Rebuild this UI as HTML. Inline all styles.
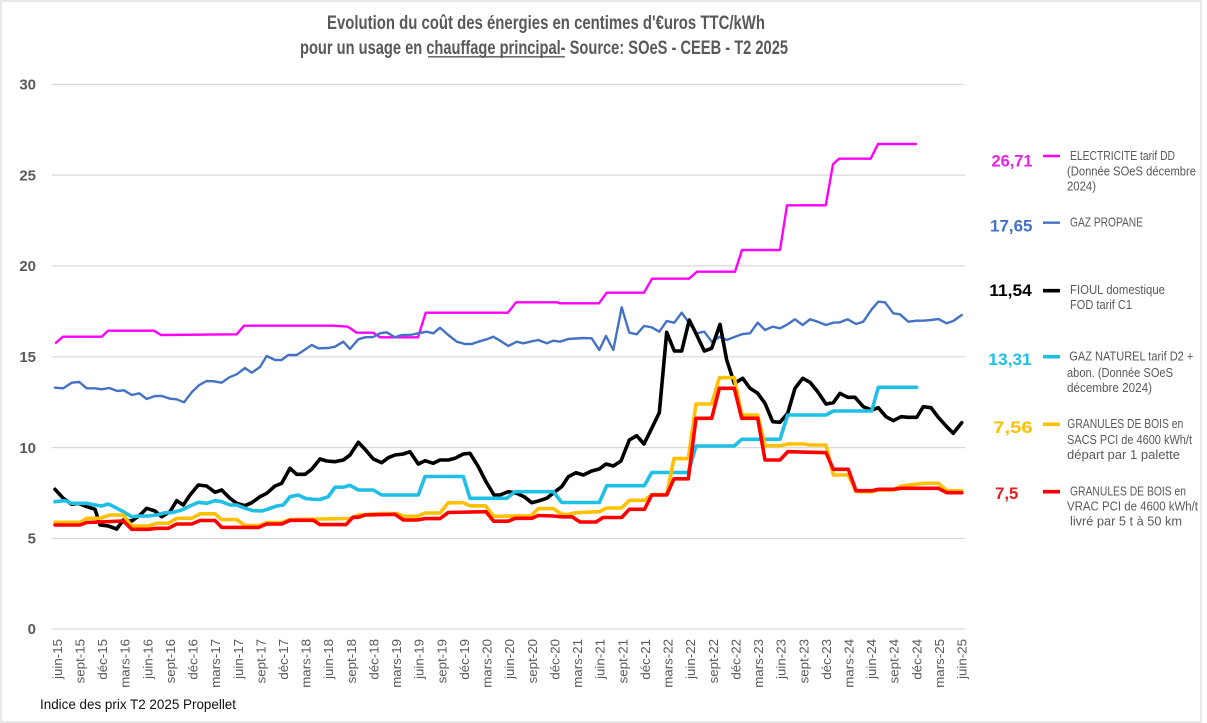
<!DOCTYPE html>
<html><head><meta charset="utf-8"><style>
html,body{margin:0;padding:0;background:#fff;}
svg{display:block;}
text{font-family:"Liberation Sans",sans-serif;}
.nar{font-family:"Liberation Sans Narrow","Liberation Sans",sans-serif;}
</style></head><body>
<svg width="1207" height="723" viewBox="0 0 1207 723" xmlns="http://www.w3.org/2000/svg">
<rect x="0" y="0" width="1207" height="723" fill="#fff"/>
<rect x="1" y="1" width="1200" height="721" fill="none" stroke="#D9D9D9" stroke-width="1.2"/>

<!-- Title -->
<text class="nar" x="546" y="29" text-anchor="middle" font-size="19.5" font-weight="bold" fill="#595959" textLength="438" lengthAdjust="spacingAndGlyphs">Evolution du coût des énergies en centimes d'€uros TTC/kWh</text>
<text class="nar" x="544" y="54" text-anchor="middle" font-size="19.5" font-weight="bold" fill="#595959" textLength="488" lengthAdjust="spacingAndGlyphs">pour un usage en chauffage principal- Source: SOeS - CEEB - T2 2025</text>
<line x1="428" y1="56.8" x2="565" y2="56.8" stroke="#595959" stroke-width="1.3"/>

<!-- gridlines -->
<g stroke="#D9D9D9" stroke-width="1.2">
<line x1="52" y1="84.3" x2="965" y2="84.3"/>
<line x1="52" y1="175.1" x2="965" y2="175.1"/>
<line x1="52" y1="265.9" x2="965" y2="265.9"/>
<line x1="52" y1="356.8" x2="965" y2="356.8"/>
<line x1="52" y1="447.6" x2="965" y2="447.6"/>
<line x1="52" y1="538.4" x2="965" y2="538.4"/>
<line x1="52" y1="629" x2="965" y2="629"/>
</g>

<!-- y labels -->
<g font-size="15" font-weight="bold" fill="#595959" text-anchor="end">
<text x="36" y="89.5">30</text>
<text x="36" y="180.3">25</text>
<text x="36" y="271.1">20</text>
<text x="36" y="362">15</text>
<text x="36" y="452.8">10</text>
<text x="36" y="543.6">5</text>
<text x="36" y="634.2">0</text>
</g>

<!-- x labels -->
<g font-size="13.3" fill="#595959" text-anchor="end">
<text transform="translate(61.8,639) rotate(-90)">juin-15</text>
<text transform="translate(84.4,639) rotate(-90)">sept-15</text>
<text transform="translate(107,639) rotate(-90)">déc-15</text>
<text transform="translate(129.7,639) rotate(-90)">mars-16</text>
<text transform="translate(152.3,639) rotate(-90)">juin-16</text>
<text transform="translate(174.9,639) rotate(-90)">sept-16</text>
<text transform="translate(197.5,639) rotate(-90)">déc-16</text>
<text transform="translate(220.1,639) rotate(-90)">mars-17</text>
<text transform="translate(242.8,639) rotate(-90)">juin-17</text>
<text transform="translate(265.4,639) rotate(-90)">sept-17</text>
<text transform="translate(288,639) rotate(-90)">déc-17</text>
<text transform="translate(310.6,639) rotate(-90)">mars-18</text>
<text transform="translate(333.2,639) rotate(-90)">juin-18</text>
<text transform="translate(355.9,639) rotate(-90)">sept-18</text>
<text transform="translate(378.5,639) rotate(-90)">déc-18</text>
<text transform="translate(401.1,639) rotate(-90)">mars-19</text>
<text transform="translate(423.7,639) rotate(-90)">juin-19</text>
<text transform="translate(446.3,639) rotate(-90)">sept-19</text>
<text transform="translate(469,639) rotate(-90)">déc-19</text>
<text transform="translate(491.6,639) rotate(-90)">mars-20</text>
<text transform="translate(514.2,639) rotate(-90)">juin-20</text>
<text transform="translate(536.8,639) rotate(-90)">sept-20</text>
<text transform="translate(559.4,639) rotate(-90)">déc-20</text>
<text transform="translate(582.1,639) rotate(-90)">mars-21</text>
<text transform="translate(604.7,639) rotate(-90)">juin-21</text>
<text transform="translate(627.3,639) rotate(-90)">sept-21</text>
<text transform="translate(649.9,639) rotate(-90)">déc-21</text>
<text transform="translate(672.5,639) rotate(-90)">mars-22</text>
<text transform="translate(695.2,639) rotate(-90)">juin-22</text>
<text transform="translate(717.8,639) rotate(-90)">sept-22</text>
<text transform="translate(740.4,639) rotate(-90)">déc-22</text>
<text transform="translate(763,639) rotate(-90)">mars-23</text>
<text transform="translate(785.6,639) rotate(-90)">juin-23</text>
<text transform="translate(808.3,639) rotate(-90)">sept-23</text>
<text transform="translate(830.9,639) rotate(-90)">déc-23</text>
<text transform="translate(853.5,639) rotate(-90)">mars-24</text>
<text transform="translate(876.1,639) rotate(-90)">juin-24</text>
<text transform="translate(898.7,639) rotate(-90)">sept-24</text>
<text transform="translate(921.4,639) rotate(-90)">déc-24</text>
<text transform="translate(944,639) rotate(-90)">mars-25</text>
<text transform="translate(966.6,639) rotate(-90)">juin-25</text>
</g>

<!-- series -->
<g fill="none" stroke-linejoin="round" stroke-linecap="round">
<polyline stroke="#FF00FF" stroke-width="2.4" points="56,342.7 63,336.7 101.7,336.7 108,330.7 154,330.7 161,335 236.7,334.3 244,325.7 300,325.7 333,325.7 348,326.7 356.7,332.7 373.3,332.7 380,337.3 418,337.3 425.7,312.7 508,312.7 516,302.3 557,302.3 560,303.3 599,303.3 606.7,292.7 644,292.7 652,278.7 689,278.7 697,271.7 735,271.7 742,250 780,250 787,205.3 825.7,205.3 833,164.3 839,158.7 870.7,158.7 878,144 916,144"/>
<polyline stroke="#4472C4" stroke-width="2.4" points="55,387.7 63.3,388.3 71.7,382.7 79.3,382 86.7,388.3 95,388.3 101.7,389.3 109.3,388 117.3,391 124,390.3 131.7,395 139.3,393.3 146.7,399 155,396 161.7,396 170,398.7 176.7,399.3 184,402.3 191.7,392.3 199.3,385 206.7,381 214,381.3 221.7,382.7 229.3,377.3 236.7,374.3 245,368 251.7,372.7 260,367 266.7,356 275,360 281.7,360 288.3,355 296.7,355 303.3,350.7 311.7,345 318.3,348.3 328.3,348 335,346.7 343.3,341.7 350,349 358.3,339.3 365,337.3 373.3,337 380,333.3 386.7,332.3 395,337.3 401.7,335 410,335 418.3,333.3 426.7,331.7 433.3,333.3 440,327.7 448.3,335 456.7,341.7 465,344 471.7,344 478.3,341.7 486.7,339.3 493.3,336.7 501.7,341.7 508.3,346 516.7,341.7 523.3,343.3 530,341.7 538.3,340 546.7,343.3 553.3,340.7 560,341.7 568.3,339 583.3,338 591.7,338.3 599.3,350 606,336 613.3,350 621.7,307.3 629.3,332.7 636.7,334.3 644,326 651.7,327.3 659.3,331.7 666.7,321 674.3,322.7 681.7,312.7 689.3,323.3 696.7,333.3 704.3,331.7 711.7,341.7 720,336.7 726.7,340 735,336.7 742.7,334 750,333.3 757.7,322.7 765,330 772.7,326.7 780,328.3 787.7,324.3 795,319.3 802.7,325 810,319.3 817.7,321.7 826,325 833.3,322.7 840,322.3 847.7,319.3 856,324 863.3,321.7 871.7,309.3 878.3,301.7 885,302.3 893.3,313.3 900,314.3 908.3,321.7 916.7,320.7 923.3,320.7 931,320 938.3,319 946.7,323.3 953.3,321 961.7,315"/>
<polyline stroke="#000000" stroke-width="3.6" points="55,489.3 63.3,498.3 71.7,504.3 78.3,503.3 85,506 95,509.3 100,525 108.3,526 116.7,529 123.3,520 131.7,521 140,515 146.7,508.3 155,511 161.7,516.7 170,511.7 176.7,500.7 183.3,505 190,495 198.3,485 206.7,486 215,492.3 221.7,490 230,498.3 236.7,503.3 245,505.7 251.7,502.7 260,496.7 266.7,493.3 275,486 281.7,483.3 290,468.3 296.7,474.3 305,474.3 311.7,469.3 320,459 326.7,461 335,461.7 343.3,460 350,455 358.3,442.3 365,449.3 373.3,459 381.7,462.7 388.3,457.7 395,455 403.3,454 410,451.7 418.3,464 425,460.7 433.3,463.3 440,460 448.3,460 455,458.3 463.3,454 470,453.3 478.3,466.7 486,481.7 494,495 500,495 508.3,491.7 516.7,493.3 525,497.3 531.7,502.7 538.3,501 546.7,498.3 555,491.7 561.7,486.7 568.3,476.7 576,472.7 583.3,475 591.7,471 599.3,469 606,464 613.3,466 621,461 629.3,440 636.7,435.7 644,444 651.7,428.3 659.3,412.7 666.7,332.3 674.3,351 681.7,351 689.3,320 696.7,335 704.3,351 711.7,348.3 720,324.3 726.7,360 734.3,383.3 742.7,378.3 750,388.3 757.7,393.3 765,403.3 772.7,421.7 780,422.3 787.7,413.3 795,388.3 802.7,378.3 810,382.3 817.7,391.7 826,404 833.3,402.7 840,393.3 847.7,397.3 855,397.3 863.3,406.7 871.7,410 878.3,407.7 886,416.7 893.3,420.7 901,416.7 908.3,417.3 916.7,417.3 923.3,406.7 931,407.7 938.3,417.3 946.7,426.7 953.3,433.3 961.7,422.7"/>
<polyline stroke="#1FBFE6" stroke-width="3.6" points="55,501.7 65,500.7 71.7,503.3 86.7,503.3 95,505 101.7,506 108.3,504 115,507.3 123.3,511.7 131.7,516.7 140,516 148.3,516 156.7,515 165,512.7 171.7,512.7 181.7,510 190,506 198.3,502.3 206.7,503.3 215,500.7 221.7,501.7 230,505 236.7,505 245,508.3 253.3,510.7 261.7,511 268.3,509 276.7,506 283.3,505 290,496.7 298.3,495 305,498.3 313.3,499.3 320,499.5 328.3,496.7 335,487.2 343.3,487.2 350,485.3 358.3,490 373.3,490 381.7,495 418.3,495 425,476.5 463.3,476.5 470,498.3 506.7,498.3 515,491.7 553.3,491.7 561.7,502.5 599.3,502.5 606.7,485.7 644.3,485.7 651.7,472.5 688.3,472.5 696,446 734.3,446 741.7,439.3 780,439.3 787.7,415 826,415 833.3,411 871.7,411 878.3,387.3 916.7,387.3"/>
<polyline stroke="#FFC000" stroke-width="3.6" points="55,522.3 80,522.3 86.7,518.3 100,518.3 110,515 123.3,515 131.7,526 148.3,526 156.7,523.3 168.3,523.3 176.7,518.3 191.7,518.3 200,513.8 215,513.8 221.7,519.6 236.7,519.6 245,525.5 259,525.5 266.7,522.5 281.7,522.5 290,519.6 320,519 350,518.5 358.3,515 380,513.5 397,513.5 403.3,516.3 417.5,516.3 425,513 440,513 448.3,502.7 463.3,502.7 470,505.8 485.5,505.8 493.5,516.3 531,515.8 538.3,508.6 553.3,508.6 561.7,514.3 568.3,514.3 576,512.7 599.3,511.7 606.7,508 621.7,508 629.3,500.3 644.5,500.3 651.7,494.6 666.7,494.6 674,458.6 688.3,458.6 696,404 711.7,404 719.3,377.7 734.3,377.7 741.7,415 757.7,415 765,445.7 780,445.7 787.7,444 803.3,444 810,445 826,445 833.3,475 848.3,475 856,491.7 871.7,491.7 878.3,490 893.3,490 901,486 923.3,483.3 938.3,483.3 946.7,490.7 961.7,490.7"/>
<polyline stroke="#FF0000" stroke-width="3.6" points="55,525 80,525 86.7,522.5 123.3,521 131.7,529.3 148.3,529.3 156.7,528.3 168.3,528.3 176.7,524 191.7,524 200,520.5 215,520.5 221.7,527.3 258.3,527.5 266.7,524 281.7,524 290,520.3 313.3,520.3 320,524.6 346,524.6 353,517.3 358.3,517.3 365,515 395,514.3 403.3,520 417,520 425,518.6 440,518.6 448.3,512.5 486,511.7 493.7,521.2 508.3,521.2 515,518.3 531.7,518.3 538.3,515.5 553.3,516 561.7,516.8 572,516.8 580,522 596,522 603,517.5 621.7,517.5 629.3,509.3 644.5,509.3 651.7,495 666.7,495 674,478.8 688.3,478.8 696,418.3 711.7,418.3 719.3,388.3 734.3,388.3 741.7,418.3 757.7,418.3 765,460 780,460 787.7,451.7 826,452.7 833.3,469.3 848.3,469.3 856,490.7 871.7,490.7 878.3,489.3 893.3,489.3 901,488.3 938.3,488.3 946.7,492.7 961.7,492.7"/>
</g>

<!-- legend values -->
<g font-size="16.5" font-weight="bold">
<text x="991.5" y="166.5" fill="#E820E8" textLength="41" lengthAdjust="spacingAndGlyphs">26,71</text>
<text x="990" y="231.5" fill="#4472C4" textLength="42.5" lengthAdjust="spacingAndGlyphs">17,65</text>
<text x="989.3" y="296" fill="#000000" textLength="42.5" lengthAdjust="spacingAndGlyphs">11,54</text>
<text x="988.3" y="365" fill="#1FBFE6" textLength="43.4" lengthAdjust="spacingAndGlyphs">13,31</text>
<text x="993.3" y="433" fill="#FFC000" textLength="39.4" lengthAdjust="spacingAndGlyphs">7,56</text>
<text x="995" y="499" fill="#E51C1C" textLength="23.3" lengthAdjust="spacingAndGlyphs">7,5</text>
</g>

<!-- legend lines -->
<g fill="none">
<line x1="1043" y1="156" x2="1060" y2="156" stroke="#FF00FF" stroke-width="2.4"/>
<line x1="1043" y1="222.7" x2="1060" y2="222.7" stroke="#4472C4" stroke-width="2.4"/>
<line x1="1043" y1="290.7" x2="1060" y2="290.7" stroke="#000" stroke-width="3.6"/>
<line x1="1043" y1="356.7" x2="1060" y2="356.7" stroke="#1FBFE6" stroke-width="3.6"/>
<line x1="1043" y1="424.3" x2="1060" y2="424.3" stroke="#FFC000" stroke-width="3.6"/>
<line x1="1043" y1="491.7" x2="1060" y2="491.7" stroke="#FF0000" stroke-width="3.6"/>
</g>

<!-- legend text -->
<g class="nar" font-size="12.5" fill="#595959">
<text x="1070" y="160" textLength="105" lengthAdjust="spacingAndGlyphs">ELECTRICITE tarif DD</text>
<text x="1067" y="175.5" textLength="129" lengthAdjust="spacingAndGlyphs">(Donnée SOeS décembre</text>
<text x="1067" y="190.5" textLength="29" lengthAdjust="spacingAndGlyphs">2024)</text>
<text x="1070" y="226.5" textLength="73" lengthAdjust="spacingAndGlyphs">GAZ PROPANE</text>
<text x="1070" y="294" textLength="95" lengthAdjust="spacingAndGlyphs">FIOUL domestique</text>
<text x="1070" y="309" textLength="62" lengthAdjust="spacingAndGlyphs">FOD tarif C1</text>
<text x="1069.3" y="360.5" textLength="124" lengthAdjust="spacingAndGlyphs">GAZ NATUREL tarif D2 +</text>
<text x="1067" y="377" textLength="106" lengthAdjust="spacingAndGlyphs">abon. (Donnée SOeS</text>
<text x="1067" y="392" textLength="85" lengthAdjust="spacingAndGlyphs">décembre 2024)</text>
<text x="1067.3" y="428" textLength="116" lengthAdjust="spacingAndGlyphs">GRANULES DE BOIS en</text>
<text x="1067" y="444" textLength="125" lengthAdjust="spacingAndGlyphs">SACS PCI de 4600 kWh/t</text>
<text x="1067" y="459" textLength="113" lengthAdjust="spacingAndGlyphs">départ par 1 palette</text>
<text x="1070" y="495.5" textLength="116" lengthAdjust="spacingAndGlyphs">GRANULES DE BOIS en</text>
<text x="1067" y="510.5" textLength="131" lengthAdjust="spacingAndGlyphs">VRAC  PCI de 4600 kWh/t</text>
<text x="1070" y="525.5" textLength="112" lengthAdjust="spacingAndGlyphs">livré par 5 t à 50 km</text>
</g>

<!-- footer -->
<text class="nar" x="40" y="709" font-size="14" fill="#111" textLength="196" lengthAdjust="spacingAndGlyphs">Indice des prix T2 2025 Propellet</text>
</svg>
</body></html>
